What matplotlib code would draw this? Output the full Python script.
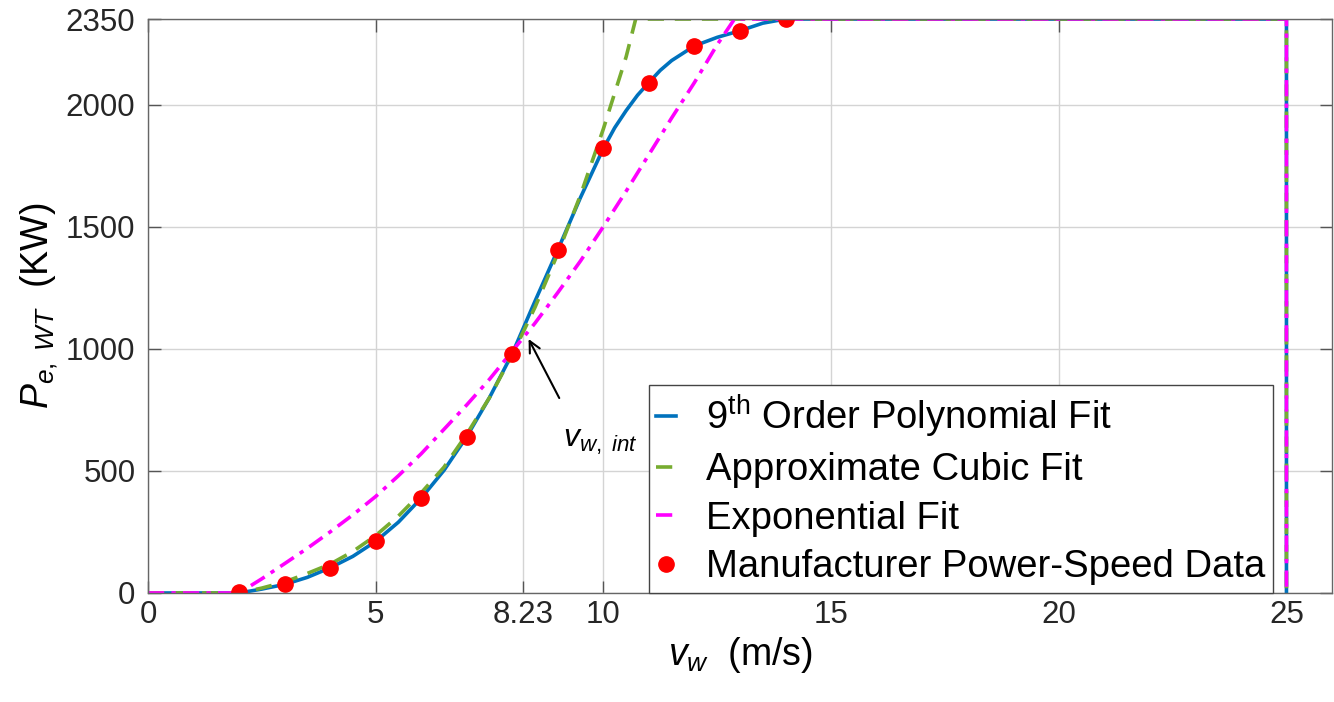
import matplotlib
matplotlib.use('Agg')
import matplotlib.pyplot as plt

plt.rcParams['font.family'] = ['Liberation Sans', 'DejaVu Sans']
plt.rcParams['mathtext.fontset'] = 'custom'
plt.rcParams['mathtext.rm'] = 'Liberation Sans'
plt.rcParams['mathtext.it'] = 'Liberation Sans:italic'

# manufacturer power curve (m/s, kW)
v_data = [2, 3, 4, 5, 6, 7, 8, 9, 10, 11, 12, 13, 14]
p_data = [5, 35, 103, 211, 388, 640, 980, 1405, 1820, 2090, 2240, 2302, 2350]

# 9th order polynomial fit
v_poly = [0, 2, 2.5, 3, 3.5, 4, 4.5, 5, 5.5, 6, 6.5, 7, 7.5, 8, 8.5, 9, 9.5, 10,
          10.25, 10.5, 10.75, 11, 11.25, 11.5, 12, 12.5, 13, 13.5, 14, 25, 25]
p_poly = [0, 0, 16, 35, 64, 103, 150, 211, 290, 388, 502, 640, 800, 980, 1195, 1405, 1620, 1820,
          1905, 1975, 2038, 2090, 2140, 2180, 2240, 2275, 2302, 2333, 2350, 2350, 0]

# approximate cubic fit
v_cubic = [0, 2, 2.5, 3, 3.5, 4, 4.5, 5, 5.5, 6, 6.5, 7, 7.5, 8, 8.5, 9, 9.5, 10, 10.5, 10.71, 25, 25]
p_cubic = [0, 0, 20, 45, 80, 118, 170, 235, 315, 410, 515, 650, 800, 975, 1170, 1390, 1630, 1900,
           2195, 2350, 2350, 0]

# exponential fit
v_exp = [0, 2, 2.5, 3, 3.5, 4, 4.5, 5, 5.5, 6, 6.5, 7, 7.5, 8, 8.5, 9, 9.5, 10, 10.5, 11, 11.5,
         12, 12.5, 12.88, 25, 25]
p_exp = [0, 0, 58, 120, 183, 250, 320, 395, 480, 570, 670, 770, 875, 990, 1105, 1230, 1360, 1500,
         1645, 1795, 1945, 2090, 2245, 2350, 2350, 0]

xticks = [0, 5, 8.23, 10, 15, 20, 25]
xlabels = ['0', '5', '8.23', '10', '15', '20', '25']
yticks = [0, 500, 1000, 1500, 2000, 2350]

fig, ax = plt.subplots(figsize=(13.34, 7.02), dpi=100)
fig.subplots_adjust(left=0.1109, right=0.9985, top=0.9729, bottom=0.1553)

ax.plot(v_poly, p_poly, color='#0072BD', lw=2.6, label=r'9$^{\rm th}$ Order Polynomial Fit')
ax.plot(v_cubic, p_cubic, color='#77AC30', lw=2.6, dashes=(4.5, 3), label='Approximate Cubic Fit')
ax.plot(v_exp, p_exp, color='#FF00FF', lw=2.6, dashes=(4.5, 2, 1.2, 2), label='Exponential Fit')
ax.plot(v_data, p_data, 'o', color='#FF0000', ms=11, mec='#FF0000', ls='none',
        label='Manufacturer Power-Speed Data')

ax.annotate('', xy=(8.33, 1050), xytext=(9.06, 788),
            arrowprops=dict(arrowstyle='->', color='k', lw=1.5, mutation_scale=20))
ax.text(9.94, 618, r'$v_{w,\ int}$', fontsize=23, ha='center', va='center')

ax.set_xlim(0, 26)
ax.set_ylim(0, 2350)
ax.set_xticks(xticks)
ax.set_xticklabels(xlabels)
ax.set_yticks(yticks)
ax.grid(True, color='#d4d4d4', lw=1)
ax.set_axisbelow(True)
ax.tick_params(axis='both', direction='in', length=9, width=1, color='#555555',
               labelsize=22.5, labelcolor='#262626', top=True, right=True)
ax.tick_params(axis='x', pad=5)
ax.tick_params(axis='y', pad=9)
for s in ax.spines.values():
    s.set_color('#666666')
    s.set_linewidth(1)

ax.set_xlabel(r'$v_w$  (m/s)', fontsize=27, labelpad=4)
ax.set_ylabel(r'$P_{e,\ WT}$  (KW)', fontsize=27, labelpad=4)

leg = ax.legend(loc='lower right', bbox_to_anchor=(0.9502, 0.0), borderaxespad=0,
                fontsize=27.5, handlelength=0.5, handletextpad=0.8, labelspacing=0.33,
                borderpad=0.2, fancybox=False, framealpha=1, edgecolor='#444444')
leg.get_frame().set_linewidth(1)

plt.savefig('out.png', dpi=100)
